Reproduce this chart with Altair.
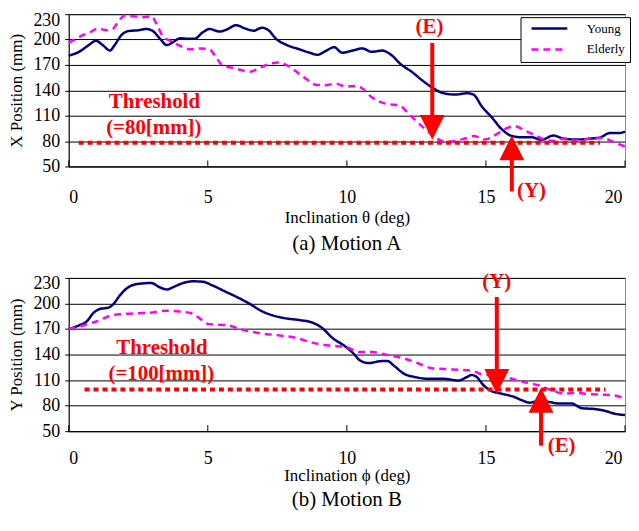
import altair as alt
import pandas as pd

FONT = "Liberation Serif"
RED = "#FF0000"

# ---------------- data ----------------
series = ["Young", "Elderly"]
series_colors = ["#000080", "#FF00FF"]
y_ticks = [50, 80, 110, 140, 170, 200, 230]
x_ticks = [0, 5, 10, 15, 20]

# (a) Motion A : X position vs inclination theta
a_young_x = [0.00, 0.40, 0.70, 0.98, 1.24, 1.48, 1.66, 1.90, 2.14, 2.50, 2.79, 3.03, 3.27, 3.53,
             3.75, 4.01, 4.29, 4.52, 4.82, 5.06, 5.42, 5.66, 6.02, 6.35, 6.65, 6.95, 7.20, 7.45,
             7.81, 8.29, 8.66, 8.94, 9.24, 9.54, 9.83, 10.20, 10.55, 10.90, 11.27, 11.57, 11.93,
             12.35, 12.70, 13.06, 13.48, 13.90, 14.32, 14.55, 14.85, 15.21, 15.57, 15.93, 16.28,
             16.64, 17.00, 17.42, 17.78, 18.08, 18.44, 18.79, 19.09, 19.45, 19.81, 20.00]
a_young_y = [181, 186, 193, 198.5, 193, 187, 194, 205.5, 210, 211, 212.5, 210, 201.5, 193.5,
             197, 201.5, 201, 201, 208.5, 212.5, 209.5, 211.5, 217, 213, 210.5, 214, 210.5, 201,
             194, 188.5, 184.5, 182, 186.5, 191, 184.5, 187, 189.5, 185.5, 187, 182.5, 171,
             161.5, 152, 143.5, 136.5, 135, 136.5, 135, 121, 108, 94, 86, 84.5,
             84.5, 81.5, 86.5, 83, 82, 82, 83, 84, 89.5, 89.5, 91.5]
a_elder_x = [0.00, 0.40, 0.76, 1.06, 1.36, 1.60, 1.78, 2.02, 2.32, 2.67, 2.97, 3.15, 3.39, 3.69,
             4.05, 4.35, 4.70, 5.06, 5.30, 5.54, 5.90, 6.20, 6.50, 6.90, 7.20, 7.55, 7.93, 8.29,
             8.58, 8.88, 9.24, 9.60, 9.96, 10.32, 10.55, 10.85, 11.15, 11.51, 11.87, 12.23, 12.53,
             12.88, 13.24, 13.54, 13.90, 14.25, 14.55, 14.97, 15.33, 15.69, 16.05, 16.40, 16.76,
             17.12, 17.48, 17.84, 18.20, 18.55, 18.91, 19.27, 19.63, 20.00]
a_elder_y = [196, 203.5, 208.5, 213, 211, 213, 221, 228.5, 227.5, 226.5, 227.5, 219, 203.5, 198,
             192, 188.5, 189.5, 188.5, 179, 169, 166.5, 164, 162, 167, 171, 173, 168, 159.5,
             152.5, 146.5, 146, 148, 144.5, 145, 142.5, 133, 127, 123.5, 122.5, 112, 102.5,
             92.5, 83, 79, 80, 83, 86, 82, 87, 94.5, 97.5, 92.5, 87,
             81.5, 80, 83, 80.5, 82, 84, 83, 78.5, 73.5]

# (b) Motion B : Y position vs inclination phi
b_young_x = [0.00, 0.35, 0.65, 0.88, 1.12, 1.42, 1.60, 1.84, 2.14, 2.50, 2.97, 3.27, 3.53, 3.81,
             4.11, 4.47, 4.82, 5.18, 5.66, 6.14, 6.61, 6.85, 7.33, 7.81, 8.29, 8.76, 9.12, 9.48,
             9.90, 10.20, 10.50, 10.79, 11.15, 11.45, 11.69, 12.05, 12.46, 12.94, 13.48, 14.02,
             14.31, 14.49, 14.67, 14.91, 15.21, 15.57, 15.99, 16.28, 16.58, 16.88, 17.24, 17.60,
             18.08, 18.44, 18.91, 19.27, 19.63, 20.00]
b_young_y = [170, 174, 179, 188.5, 193.5, 195, 199, 209.5, 219, 223, 224, 219, 216.5, 220,
             224, 226, 225.5, 221, 213.5, 206, 197.5, 192.5, 186, 182.5, 180.5, 177.5, 171, 159.5,
             150.5, 142.5, 132.5, 130, 132, 132.5, 127, 117.5, 113.5, 111.5, 111.5, 109.5,
             113.5, 116, 113.5, 104, 97, 94, 90.5, 86.5, 83.5, 85.5, 84.5, 82.5,
             82.5, 77, 76, 74, 70.5, 69]
b_elder_x = [0.00, 0.35, 0.70, 1.06, 1.48, 1.96, 2.44, 2.91, 3.51, 3.99, 4.41, 4.71, 5.01, 5.42,
             5.78, 6.14, 6.61, 6.97, 7.57, 8.17, 8.76, 9.36, 9.96, 10.44, 10.91, 11.51, 12.05,
             12.58, 13.06, 13.54, 14.02, 14.49, 14.97, 15.45, 15.93, 16.40, 16.88, 17.36, 17.84,
             18.20, 18.55, 19.03, 19.51, 20.00]
b_elder_y = [170, 172.5, 176, 179.5, 185.5, 187.5, 188.5, 189, 191.5, 190.5, 188.5, 182.5, 176, 175,
             174, 170, 166.5, 164.5, 162.5, 159.5, 154, 150.5, 149, 143, 143, 139, 135.5,
             129.5, 124, 123, 122, 121, 116, 116, 111.5, 107.5, 104, 98, 94,
             95, 94, 93, 92.5, 88.5]

# thresholds (dotted red lines) and their labels
a_thr_x, a_thr_x2, a_thr_y = [0.36], [19.1], [78]
b_thr_x, b_thr_x2, b_thr_y = [0.57], [19.3], [99]
a_thr_text = ["Threshold", "(=80[mm])"]
a_thr_text_x = [3.08, 3.06]
a_thr_text_y = [126, 95.5]
b_thr_text = ["Threshold", "(=100[mm])"]
b_thr_text_x = [3.35, 3.33]
b_thr_text_y = [148, 117]

# arrows
a_arrow_label = ["(E)", "(Y)"]
a_arrow_x = [13.07, 15.93]
a_shaft_y1 = [196, 72]
a_shaft_y2 = [96, 20.5]
a_head_y = [96.2, 72]
a_head_dir = ["down", "up"]
a_label_x = [12.97, 16.64]
a_label_y = [215, 21.5]

b_arrow_label = ["(Y)", "(E)"]
b_arrow_x = [15.39, 16.98]
b_shaft_y1 = [207.6, 86]
b_shaft_y2 = [108, 33]
b_head_y = [108.4, 86.3]
b_head_dir = ["down", "up"]
b_label_x = [15.39, 17.72]
b_label_y = [225, 32]

HEAD_DOWN = "M-1,-1L1,-1L0,1Z"
HEAD_UP = "M-1,1L1,1L0,-1Z"


def panel(yx, yy, ex, ey, thr_x, thr_x2, thr_y, thr_text, thr_tx, thr_ty,
          ar_label, ar_x, sh_y1, sh_y2, hd_y, hd_dir, lb_x, lb_y,
          y_title, x_title, caption, h, lab_pad, title_pad, cap_offset, leg_y):
    sx = alt.Scale(domain=[0, 20], nice=False)
    sy = alt.Scale(domain=[50, 230], nice=False, zero=False)
    ax = alt.Axis(values=x_ticks, title=x_title, ticks=False, grid=False,
                  labelPadding=lab_pad, titlePadding=title_pad, labelFontSize=18,
                  labelOffset=alt.condition("datum.value == 20", alt.value(-3), alt.value(0)),
                  titleFontSize=17, domainColor="black")
    ay = alt.Axis(values=y_ticks, title=y_title, grid=True, gridColor="black", gridWidth=1,
                  gridOpacity=1,
                  labelOffset=alt.condition("datum.value == 230", alt.value(6), alt.value(0)),
                  tickSize=4, labelPadding=5, titlePadding=7,
                  labelFontSize=18, titleFontSize=17, domainColor="black")
    X = lambda f="x:Q": alt.X(f, scale=sx, axis=ax)
    Y = lambda f="y:Q": alt.Y(f, scale=sy, axis=ay)

    lines_df = pd.DataFrame({
        "x": yx + ex,
        "y": yy + ey,
        "s": [series[0]] * len(yx) + [series[1]] * len(ex),
    })
    legend = alt.Legend(
        title=None, orient="none", legendX=454, legendY=leg_y,
        labelFont=FONT, labelFontSize=13, labelColor="black",
        symbolType="M-3.6,0L3.6,0", symbolSize=100, symbolStrokeWidth=2.5,
        symbolOffset=17.5, labelOffset=31, padding=5, rowPadding=7,
        strokeColor="black", fillColor="white", cornerRadius=0,
    )
    lines = alt.Chart(lines_df).mark_line(interpolate="monotone", strokeWidth=2.5).encode(
        x=X(), y=Y(),
        color=alt.Color("s:N", scale=alt.Scale(domain=series, range=series_colors), legend=legend),
        strokeDash=alt.StrokeDash("s:N", scale=alt.Scale(domain=series, range=[[1, 0], [7, 5]]),
                                  legend=legend),
        order=alt.Order("x:Q"),
    )

    ticks_df = pd.DataFrame({"x": x_ticks})
    inner_ticks = alt.Chart(ticks_df).mark_rule(color="black", strokeWidth=1).encode(
        x=X(), y=alt.value(h), y2=alt.value(h - 6),
    )

    thr_df = pd.DataFrame({"x": thr_x, "x2": thr_x2, "y": thr_y})
    thr = alt.Chart(thr_df).mark_rule(color=RED, strokeWidth=4, strokeDash=[5, 4]).encode(
        x=X(), x2="x2:Q", y=Y(),
    )

    thr_txt_df = pd.DataFrame({"x": thr_tx, "y": thr_ty, "t": thr_text})
    thr_txt = alt.Chart(thr_txt_df).mark_text(
        font=FONT, fontSize=21, fontWeight="bold", color=RED, align="center", baseline="middle"
    ).encode(x=X(), y=Y(), text="t:N")

    shaft_df = pd.DataFrame({"x": ar_x, "y": sh_y1, "y2": sh_y2})
    shafts = alt.Chart(shaft_df).mark_rule(color=RED, strokeWidth=4).encode(
        x=X(), y=Y(), y2="y2:Q",
    )

    head_df = pd.DataFrame({"x": ar_x, "y": hd_y, "d": hd_dir})
    heads = alt.Chart(head_df).mark_point(filled=True, size=625, opacity=1, color=RED,
                                          strokeWidth=0).encode(
        x=X(), y=Y(),
        shape=alt.Shape("d:N", scale=alt.Scale(domain=["down", "up"], range=[HEAD_DOWN, HEAD_UP]),
                        legend=None),
    )

    lab_df = pd.DataFrame({"x": lb_x, "y": lb_y, "t": ar_label})
    labs = alt.Chart(lab_df).mark_text(
        font=FONT, fontSize=21, fontWeight="bold", color=RED, align="center", baseline="middle"
    ).encode(x=X(), y=Y(), text="t:N")

    return alt.layer(lines, inner_ticks, thr, thr_txt, shafts, heads, labs).properties(
        width=559, height=h,
        title=alt.TitleParams(caption, orient="bottom", font=FONT, fontSize=21,
                              fontWeight="normal", color="black", offset=cap_offset,
                              anchor="middle"),
    )


top = panel(a_young_x, a_young_y, a_elder_x, a_elder_y, a_thr_x, a_thr_x2, a_thr_y,
            a_thr_text, a_thr_text_x, a_thr_text_y,
            a_arrow_label, a_arrow_x, a_shaft_y1, a_shaft_y2, a_head_y, a_head_dir,
            a_label_x, a_label_y,
            "X Position (mm)", "Inclination  θ (deg)", "(a) Motion A", 153, 22, 3, 8, 3)
bottom = panel(b_young_x, b_young_y, b_elder_x, b_elder_y, b_thr_x, b_thr_x2, b_thr_y,
               b_thr_text, b_thr_text_x, b_thr_text_y,
               b_arrow_label, b_arrow_x, b_shaft_y1, b_shaft_y2, b_head_y, b_head_dir,
               b_label_x, b_label_y,
               "Y Position (mm)", "Inclination  ϕ (deg)", "(b) Motion B", 154, 18, 1, 5, 6)

chart = alt.vconcat(top, bottom, spacing=112, bounds="flush").properties(
    padding={"left": -1, "top": 0, "right": 0, "bottom": 0},
    background="white",
).configure_view(
    stroke="#8c8c8c", strokeWidth=1
).configure_axis(
    labelFont=FONT, titleFont=FONT, labelColor="black", titleColor="black",
    tickColor="black", titleFontWeight="normal",
)

chart.save("out.html", embed_options={"renderer": "svg", "actions": False})
